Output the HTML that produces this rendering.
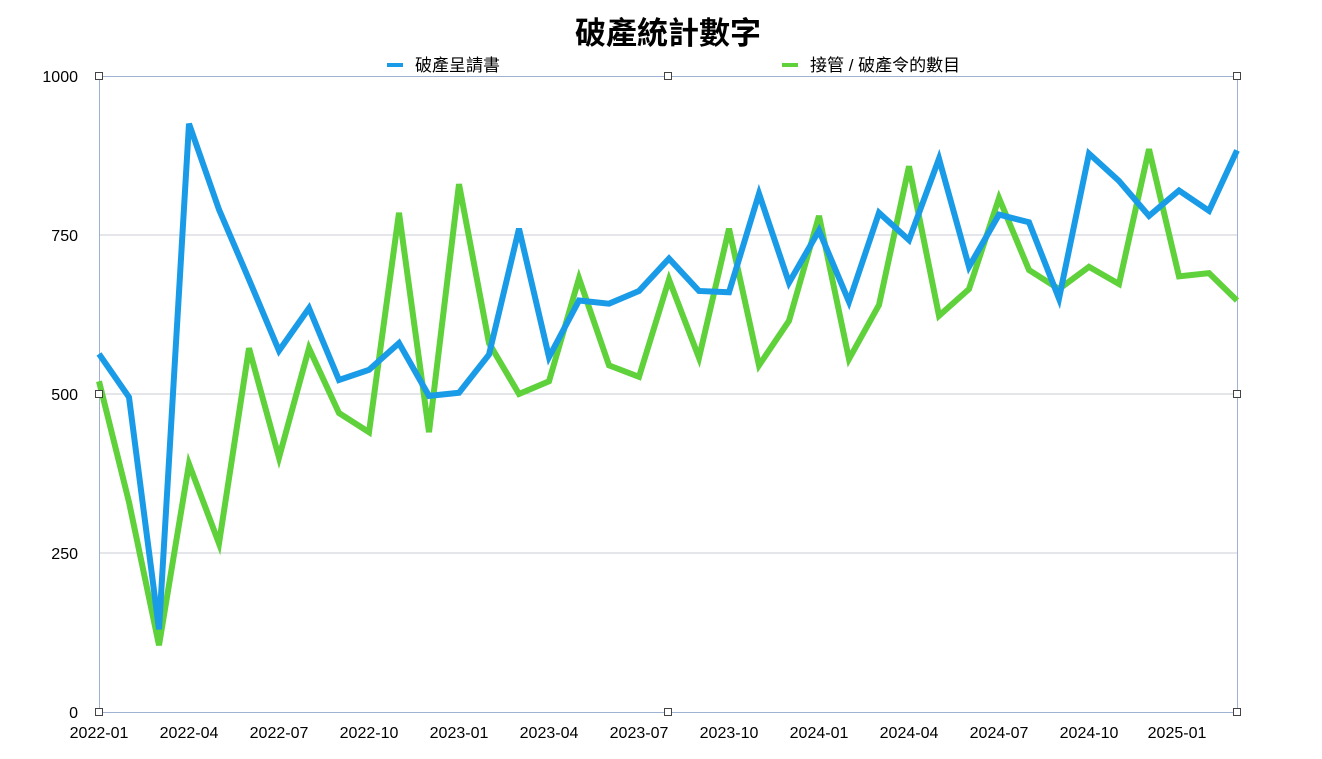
<!DOCTYPE html>
<html><head><meta charset="utf-8"><style>
body{margin:0;background:#fff;width:1322px;height:754px;overflow:hidden}
text{font-family:"Liberation Sans","Noto Sans CJK TC",sans-serif;fill:#000}
</style></head><body>
<svg width="1322" height="754" xmlns="http://www.w3.org/2000/svg">
<text x="668" y="44" font-size="31" font-weight="bold" text-anchor="middle">破產統計數字</text>
<line x1="387" y1="65" x2="403" y2="65" stroke="#1a9be8" stroke-width="4"/>
<text x="415" y="71" font-size="17">破產呈請書</text>
<line x1="782" y1="65" x2="798" y2="65" stroke="#5fd13a" stroke-width="4"/>
<text x="810" y="71" font-size="17">接管 / 破產令的數目</text>
<g stroke="#c8cdd6" stroke-width="1">
<line x1="99" y1="235" x2="1237" y2="235"/><line x1="99" y1="394" x2="1237" y2="394"/><line x1="99" y1="553" x2="1237" y2="553"/>
</g>
<rect x="99.5" y="76.5" width="1138" height="636" fill="none" stroke="#9fb3d1" stroke-width="1"/>
<g font-size="16" text-anchor="end">
<text x="78" y="82">1000</text><text x="78" y="241">750</text><text x="78" y="400">500</text><text x="78" y="559">250</text><text x="78" y="718">0</text>
</g>
<g font-size="16" text-anchor="middle">
<text x="99" y="738">2022-01</text><text x="189" y="738">2022-04</text><text x="279" y="738">2022-07</text><text x="369" y="738">2022-10</text><text x="459" y="738">2023-01</text><text x="549" y="738">2023-04</text><text x="639" y="738">2023-07</text><text x="729" y="738">2023-10</text><text x="819" y="738">2024-01</text><text x="909" y="738">2024-04</text><text x="999" y="738">2024-07</text><text x="1089" y="738">2024-10</text><text x="1177" y="738">2025-01</text>
</g>
<g transform="matrix(1,0,0,-0.636,0,712)" fill="none" stroke-linejoin="miter">
<polyline vector-effect="non-scaling-stroke" stroke="#5fd13a" stroke-width="6" points="99,520 129,330 159,105 189,390 219,265 249,572 279,400 309,572 339,470 369,440 399,785 429,440 459,830 489,580 519,500 549,520 579,682 609,545 639,527 669,680 699,557 729,760 759,545 789,615 819,780 849,555 879,640 909,858 939,623 969,665 999,808 1029,695 1059,665 1089,700 1119,673 1149,885 1179,685 1209,690 1237,647"/>
<polyline vector-effect="non-scaling-stroke" stroke="#1a9be8" stroke-width="6" points="99,563 129,495 159,130 189,925 219,790 249,680 279,568 309,635 339,522 369,538 399,580 429,497 459,502 489,562 519,760 549,558 579,647 609,642 639,662 669,713 699,662 729,660 759,815 789,675 819,757 849,645 879,785 909,742 939,870 969,700 999,782 1029,770 1059,650 1089,878 1119,835 1149,780 1179,820 1209,788 1237,883"/>
</g>
<g fill="#fff" stroke="#444" stroke-width="1">
<rect x="95.5" y="72.5" width="7" height="7"/><rect x="664.5" y="72.5" width="7" height="7"/><rect x="1233.5" y="72.5" width="7" height="7"/>
<rect x="95.5" y="390.5" width="7" height="7"/><rect x="1233.5" y="390.5" width="7" height="7"/>
<rect x="95.5" y="708.5" width="7" height="7"/><rect x="664.5" y="708.5" width="7" height="7"/><rect x="1233.5" y="708.5" width="7" height="7"/>
</g>
</svg>
</body></html>
